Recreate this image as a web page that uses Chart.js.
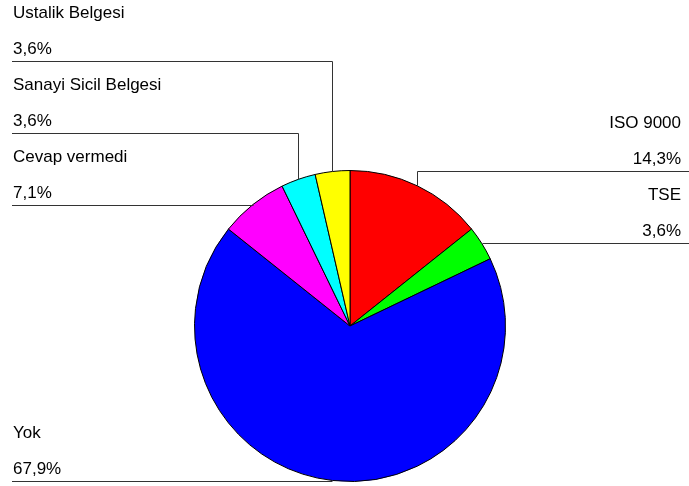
<!DOCTYPE html>
<html>
<head>
<meta charset="utf-8">
<script src="https://cdn.jsdelivr.net/npm/chart.js@4/dist/chart.umd.min.js"></script>
<style>
  html, body { margin: 0; padding: 0; background: #ffffff; }
  #wrap { width: 689px; height: 486px; }
</style>
</head>
<body>
<div id="wrap"><canvas id="c" width="689" height="486"></canvas></div>
<script>
// Belge türleri ve yüzdeleri (saat yönünde, tepeden başlayarak)
const categories = ["ISO 9000", "TSE", "Yok", "Cevap vermedi", "Sanayi Sicil Belgesi", "Ustalik Belgesi"];
const percentages = [14.3, 3.6, 67.9, 7.1, 3.6, 3.6];
const sliceColors = ["#FF0000", "#00FF00", "#0000FF", "#FF00FF", "#00FFFF", "#FFFF00"];

const FONT = '17px "Liberation Sans", Arial, sans-serif';
const BLOCK = 72;       // vertical room taken by one label (name + value)
const LEFT_X = 12;      // left edge of left-hand leader lines
const RIGHT_X = 689;    // right edge of right-hand leader lines

function fmt(v) { return v.toFixed(1).replace('.', ',') + '%'; }

// Draws each slice's name and value above a leader line running to the slice edge
const leaderLabels = {
  id: 'leaderLabels',
  afterDraw(chart) {
    const ctx = chart.ctx;
    const meta = chart.getDatasetMeta(0);
    const cx = meta.data[0].x;
    const items = meta.data.map((arc, i) => {
      const mid = (arc.startAngle + arc.endAngle) / 2;
      const r = arc.outerRadius;
      const ax = arc.x + Math.cos(mid) * r;
      const ay = arc.y + Math.sin(mid) * r;
      return { i, ax, ay, left: ax < cx };
    });

    // Stack labels upward so blocks on the same side never overlap
    ['left', 'right'].forEach(side => {
      const group = items.filter(it => (side === 'left') === it.left)
                         .sort((a, b) => b.ay - a.ay);
      let limit = Infinity;
      group.forEach(it => {
        it.ly = Math.min(it.ay, limit);
        limit = it.ly - BLOCK;
      });
    });

    ctx.save();
    ctx.strokeStyle = '#333333';
    ctx.lineWidth = 1;
    ctx.fillStyle = '#000000';
    ctx.font = FONT;
    ctx.textBaseline = 'alphabetic';
    items.forEach(it => {
      const y = Math.round(it.ly) + 0.5;
      const x = Math.round(it.ax) + 0.5;
      ctx.beginPath();
      if (it.left) {
        ctx.moveTo(LEFT_X, y);
      } else {
        ctx.moveTo(RIGHT_X, y);
      }
      ctx.lineTo(x, y);
      if (it.ay - it.ly > 1) ctx.lineTo(x, it.ay);
      ctx.stroke();

      const tx = it.left ? 13 : 681;
      ctx.textAlign = it.left ? 'left' : 'right';
      ctx.fillText(categories[it.i], tx, it.ly - 43);
      ctx.fillText(fmt(percentages[it.i]), tx, it.ly - 7);
    });
    ctx.restore();
  }
};

new Chart(document.getElementById('c'), {
  type: 'pie',
  data: {
    labels: categories,
    datasets: [{
      data: percentages,
      backgroundColor: sliceColors,
      borderColor: '#000000',
      borderWidth: 1
    }]
  },
  options: {
    responsive: false,
    animation: false,
    layout: { padding: { top: 170, bottom: 4, left: 194, right: 183 } },
    plugins: {
      legend: { display: false },
      tooltip: { enabled: false }
    }
  },
  plugins: [leaderLabels]
});
</script>
</body>
</html>
